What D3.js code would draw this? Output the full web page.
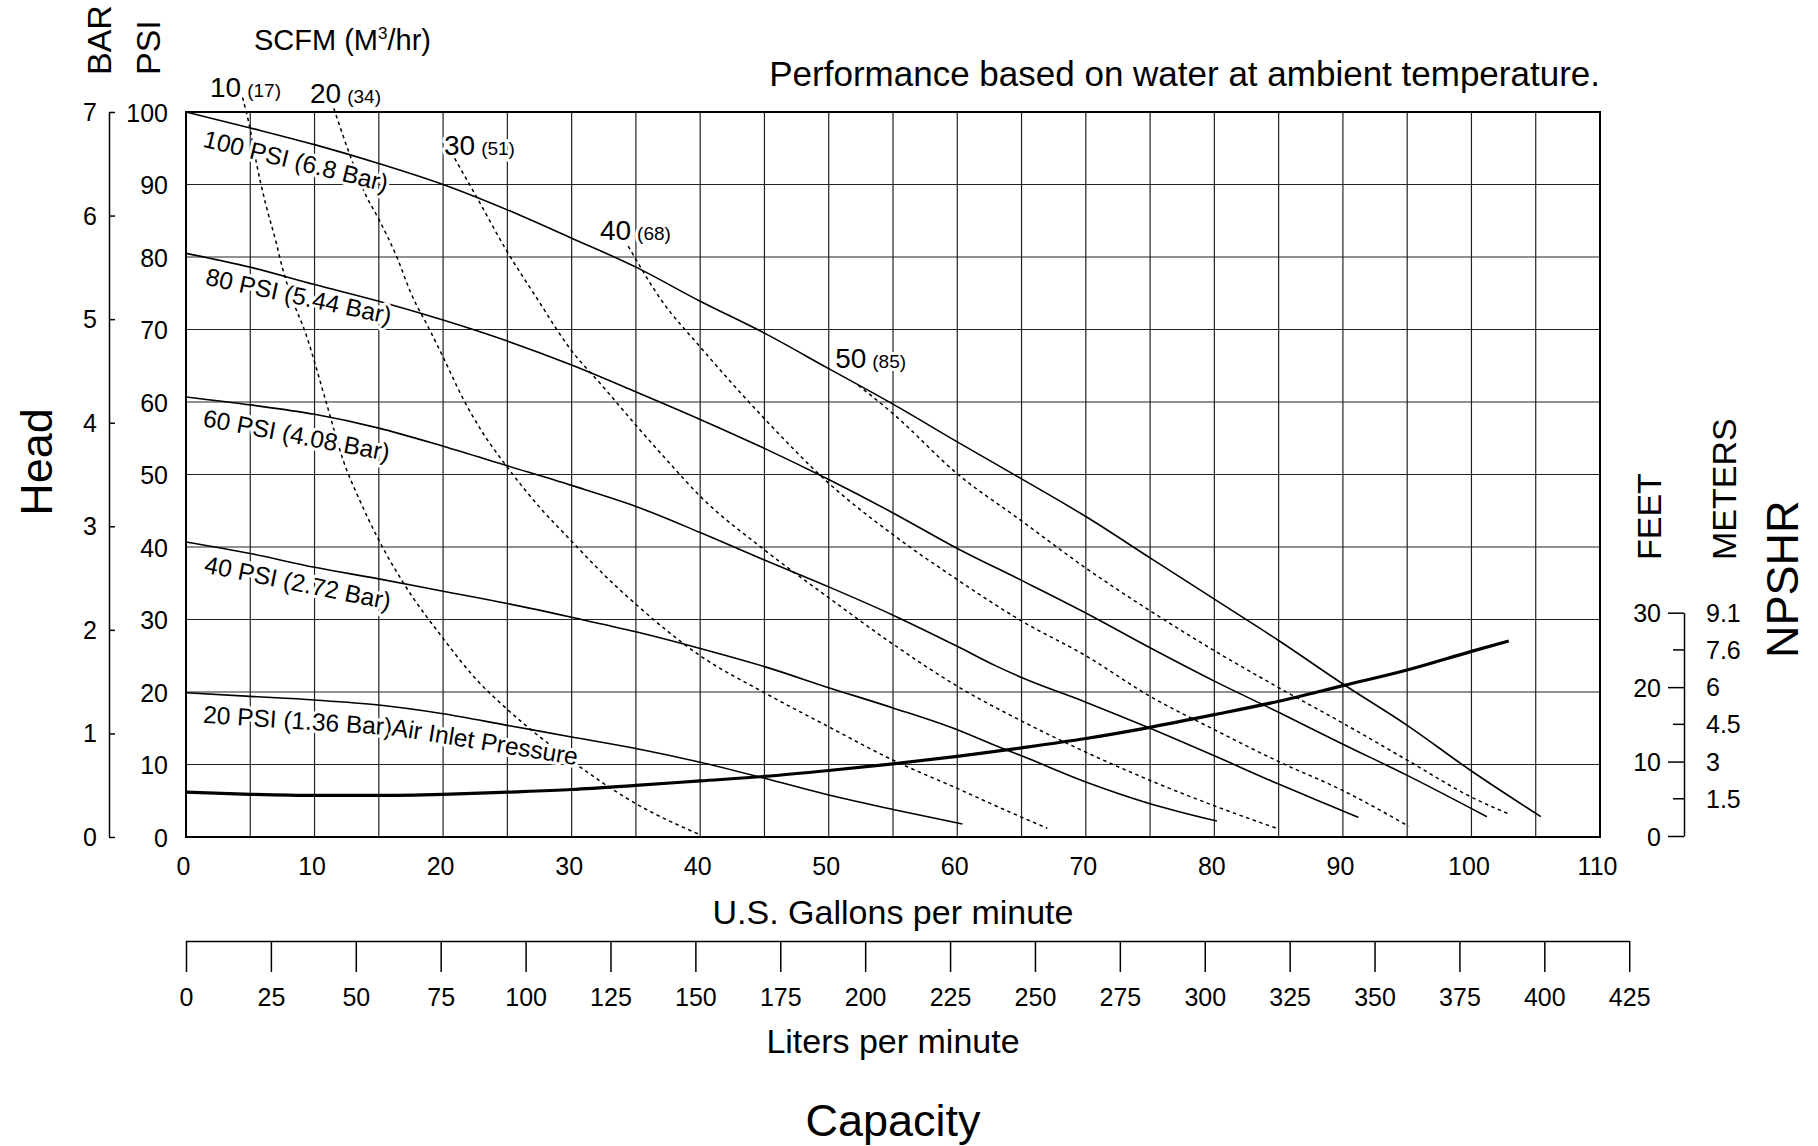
<!DOCTYPE html>
<meta charset="utf-8">
<script src="https://d3js.org/d3.v7.min.js"></script>
<style>
  body { margin: 0; background: #fff; }
  text { font-family: "Liberation Sans", Arial, sans-serif; fill: #000; }
</style>

<div id="my_dataviz"></div>
<script>
  // ---- data ----
  var gpmTicks = [0, 10, 20, 30, 40, 50, 60, 70, 80, 90, 100, 110];
  var gpmGrid = [5, 10, 15, 20, 25, 30, 35, 40, 45, 50, 55, 60, 65, 70, 75, 80, 85, 90, 95, 100, 105];
  var psiTicks = [0, 10, 20, 30, 40, 50, 60, 70, 80, 90, 100];
  var barTicks = [0, 1, 2, 3, 4, 5, 6, 7];
  var literTicks = [0, 25, 50, 75, 100, 125, 150, 175, 200, 225, 250, 275, 300, 325, 350, 375, 400, 425];
  var feetTicks = [0, 10, 20, 30];
  var feetMinor = [5, 15, 25];
  var meterAtFeet = [5, 10, 15, 20, 25, 30];
  var meterLabels = ["1.5", "3", "4.5", "6", "7.6", "9.1"];

  // air inlet pressure curves: [gpm, psi]
  var psi100 = [[0,100],[5,97.8],[10,95.5],[15,92.9],[20,90.0],[25,86.5],[30,82.6],[35,78.6],[40,73.9],[45,69.5],[50,64.6],[55,59.7],[60,54.5],[65,49.4],[70,44.2],[75,38.5],[80,32.8],[85,27.1],[90,21.1],[95,15.4],[100,9.1],[105.4,2.8]];
  var psi80 = [[0,80.5],[5,78.6],[10,76.2],[15,73.9],[20,71.3],[25,68.4],[30,65.1],[35,61.4],[40,57.6],[45,53.6],[50,49.3],[55,44.7],[60,39.8],[65,35.4],[70,30.9],[75,26.1],[80,21.5],[85,17.2],[90,12.8],[95,8.5],[101.2,2.8]];
  var psi60 = [[0,60.7],[5,59.6],[10,58.3],[15,56.4],[20,53.9],[25,51.2],[30,48.5],[35,45.6],[40,42.0],[45,38.2],[50,34.5],[55,30.6],[60,26.3],[63,23.6],[65,22.0],[70,18.6],[75,15.0],[80,11.2],[85,7.3],[90,3.6],[91.2,2.7]];
  var psi40 = [[0,40.7],[5,39.1],[10,37.2],[15,35.6],[20,33.9],[25,32.2],[30,30.3],[35,28.3],[40,26.0],[45,23.5],[50,20.6],[55,17.8],[60,14.8],[63.4,12.3],[65,11.2],[70,7.6],[75,4.6],[80.2,2.2]];
  var psi20 = [[0,19.9],[5,19.4],[10,18.9],[15,18.2],[20,17.0],[25,15.4],[30,13.8],[35,12.2],[40,10.3],[45,8.1],[50,5.8],[55,3.8],[60.4,1.8]];
  var pressureNames = ["100 PSI (6.8 Bar)", "80 PSI (5.44 Bar)", "60 PSI (4.08 Bar)", "40 PSI (2.72 Bar)", "20 PSI (1.36 Bar)"];
  var inletNote = "Air Inlet Pressure";

  // air consumption curves (dashed): [gpm, psi]
  var scfm10 = [[4.4,102],[4.9,98.4],[5.45,93.2],[6.2,87.3],[7.0,82.1],[7.5,78.5],[8.3,74],[9.2,70],[10.9,60],[12.2,52.1],[13.5,46.5],[14.9,41.3],[17.0,34.8],[20,27.4],[22.5,21.9],[25,17.6],[30,10.5],[35,4.6],[40,0.3]];
  var scfm20 = [[11.5,100.5],[12.6,94.8],[14,88.5],[15,85.2],[16.4,80],[17.5,75],[19,69.8],[20,66.2],[21.6,60.3],[23,56],[25,51],[27.5,45.5],[30,40.8],[32.5,36.2],[35,32.1],[40,25.0],[45,19.9],[50,15.2],[55,10.6],[60,6.7],[63.5,3.9],[67,1.2]];
  var scfm30 = [[20.9,93.6],[22.6,88.3],[24.9,81],[27.3,74.3],[29.9,67.3],[32.5,62],[35,56.8],[37.5,51.8],[40,47.0],[45,39.6],[50,33.0],[55,26.6],[60,20.8],[65,16.0],[70,11.7],[75,7.8],[80,4.3],[85,1.1]];
  var scfm40 = [[34.4,81.5],[37,74],[40,67.6],[45,57.7],[50,48.8],[55,41.7],[60,35.5],[65,29.8],[70,25.0],[75,19.4],[80,14.8],[85,10.4],[90,6.4],[95.1,1.5]];
  var scfm50 = [[52.3,62.3],[55,58.4],[60,50.1],[65,43.6],[70,37.1],[75,31.2],[80,25.7],[85,20.6],[90,15.7],[95,10.6],[100,5.5],[103,3.1]];
  var scfmNames = ["10", "20", "30", "40", "50"];
  var scfmM3 = ["(17)", "(34)", "(51)", "(68)", "(85)"];

  // NPSHR curve: [gpm, feet]
  var npshr = [[0,5.9],[5,5.6],[10,5.45],[15,5.45],[20,5.6],[25,5.9],[30,6.25],[35,6.8],[40,7.4],[45,8.0],[50,8.8],[55,9.7],[60,10.7],[65,11.85],[70,13.1],[75,14.6],[80,16.3],[85,18.1],[90,20.2],[95,22.3],[100,24.8],[102.9,26.2]];

  // ---- layout ----
  var margin = {top: 112, right: 218, bottom: 309, left: 186},
      width = 1818 - margin.left - margin.right,
      height = 1146 - margin.top - margin.bottom;

  var svg = d3.select("#my_dataviz")
    .append("svg")
      .attr("width", width + margin.left + margin.right)
      .attr("height", height + margin.top + margin.bottom)
    .append("g")
      .attr("transform", "translate(" + margin.left + "," + margin.top + ")");

  var x = d3.scaleLinear().domain([0, 110]).range([0, width]);
  var y = d3.scaleLinear().domain([0, 100]).range([height, 0]);
  var yBar = d3.scaleLinear().domain([0, 7]).range([height, 0]);
  var xL = d3.scaleLinear().domain([0, 110 * 3.7854]).range([0, width]);
  var yFt = d3.scaleLinear().domain([0, 30]).range([724, 500.7]);

  // grid
  svg.append("g").selectAll("line")
    .data(gpmGrid).enter().append("line")
      .attr("x1", function(d) { return x(d); }).attr("x2", function(d) { return x(d); })
      .attr("y1", 0).attr("y2", height)
      .attr("stroke", "#222").attr("stroke-width", 1.2);
  svg.append("g").selectAll("line")
    .data(psiTicks.slice(1, -1)).enter().append("line")
      .attr("x1", 0).attr("x2", width)
      .attr("y1", function(d) { return y(d); }).attr("y2", function(d) { return y(d); })
      .attr("stroke", "#222").attr("stroke-width", 1.2);
  svg.append("rect")
    .attr("x", 0).attr("y", 0).attr("width", width).attr("height", height)
    .attr("fill", "none").attr("stroke", "#000").attr("stroke-width", 2);

  // GPM axis labels
  var xAxis = svg.append("g")
    .attr("transform", "translate(0," + height + ")")
    .call(d3.axisBottom(x).tickValues(gpmTicks).tickSize(0).tickPadding(0));
  xAxis.select(".domain").remove();
  xAxis.selectAll("text")
    .attr("y", 38).attr("dy", 0).attr("dx", -3)
    .style("font-size", "25px");

  // PSI axis labels
  var yAxis = svg.append("g")
    .call(d3.axisLeft(y).tickValues(psiTicks).tickSize(0).tickPadding(18));
  yAxis.select(".domain").remove();
  yAxis.selectAll("text").style("font-size", "25px").attr("dy", "0.36em");

  // BAR axis
  var barAxis = svg.append("g")
    .attr("transform", "translate(-77,0)")
    .call(d3.axisRight(yBar).tickValues(barTicks).tickSize(6).tickFormat(""));
  barAxis.select(".domain").attr("stroke-width", 1.5).attr("d", "M0.5," + height + "V0");
  barAxis.selectAll("line").attr("stroke-width", 1.5);
  svg.append("g").selectAll("text")
    .data(barTicks).enter().append("text")
      .attr("x", -89).attr("y", function(d) { return yBar(d); })
      .attr("dy", "0.36em").attr("text-anchor", "end")
      .style("font-size", "25px")
      .text(function(d) { return d; });

  // liters axis
  var lAxis = svg.append("g")
    .attr("transform", "translate(0," + (height + 104) + ")")
    .call(d3.axisBottom(xL).tickValues(literTicks).tickSize(31).tickPadding(12).tickSizeOuter(0));
  lAxis.select(".domain").attr("stroke-width", 1.5).attr("d", "M0," + 0.5 + "H" + xL(425));
  lAxis.selectAll("line").attr("stroke-width", 1.5);
  lAxis.selectAll("text").attr("y", 65).attr("dy", 0).style("font-size", "25px");

  // NPSHR axis (feet left, meters right)
  var fAxis = svg.append("g")
    .attr("transform", "translate(1498,0)")
    .call(d3.axisLeft(yFt).tickValues(feetTicks).tickSize(16).tickPadding(7).tickSizeOuter(0));
  fAxis.select(".domain").attr("stroke-width", 1.5);
  fAxis.selectAll("line").attr("stroke-width", 1.5);
  fAxis.selectAll("text").style("font-size", "25px").attr("dy", "0.36em");
  svg.append("g").selectAll("line")
    .data(feetMinor).enter().append("line")
      .attr("x1", 1487).attr("x2", 1498)
      .attr("y1", function(d) { return yFt(d); }).attr("y2", function(d) { return yFt(d); })
      .attr("stroke", "#000").attr("stroke-width", 1.5);
  svg.append("g").selectAll("text")
    .data(meterAtFeet).enter().append("text")
      .attr("x", 1520).attr("y", function(d) { return yFt(d); })
      .attr("dy", "0.36em")
      .style("font-size", "25px")
      .text(function(d, i) { return meterLabels[i]; });

  // curves
  var line = d3.line()
    .x(function(d) { return x(d[0]); })
    .y(function(d) { return y(d[1]); })
    .curve(d3.curveMonotoneX);

  [scfm10, scfm20, scfm30, scfm40, scfm50].forEach(function(c) {
    svg.append("path").datum(c)
      .attr("d", line)
      .attr("fill", "none").attr("stroke", "#000")
      .attr("stroke-width", 1.5).attr("stroke-dasharray", "3.5,3.5");
  });

  [psi100, psi80, psi60, psi40, psi20].forEach(function(c) {
    svg.append("path").datum(c)
      .attr("d", line)
      .attr("fill", "none").attr("stroke", "#000").attr("stroke-width", 1.6);
  });

  svg.append("path").datum(npshr)
    .attr("d", d3.line()
      .x(function(d) { return x(d[0]); })
      .y(function(d) { return yFt(d[1]); })
      .curve(d3.curveMonotoneX))
    .attr("fill", "none").attr("stroke", "#000").attr("stroke-width", 3.2);

  // curve labels with white halo
  function halo(sel) {
    sel.attr("stroke", "#fff").attr("stroke-width", 6)
       .attr("stroke-linejoin", "round").attr("paint-order", "stroke");
  }

  // pressure labels: anchor [gpm, psi], rotation
  var pLabelPos = [[1.24, 95.24, 13.9], [1.43, 76.2, 12.1], [1.24, 56.7, 10.7], [1.35, 36.5, 11.4], [1.3, 15.75, 3.8]];
  pressureNames.forEach(function(t, i) {
    var p = pLabelPos[i];
    svg.append("text")
      .attr("transform", "translate(" + x(p[0]) + "," + y(p[1]) + ") rotate(" + p[2] + ")")
      .style("font-size", "24.5px")
      .call(halo)
      .text(t);
  });
  svg.append("text")
    .attr("transform", "translate(" + x(15.95) + "," + y(14.05) + ") rotate(9.2)")
    .style("font-size", "24.5px")
    .call(halo)
    .text(inletNote);

  // SCFM labels
  var sLabelPos = [[1.87, 102.1], [9.65, 101.2], [20.07, 94.07], [32.2, 82.3], [50.5, 64.7]];
  scfmNames.forEach(function(t, i) {
    var p = sLabelPos[i];
    var tx = svg.append("text")
      .attr("x", x(p[0])).attr("y", y(p[1]))
      .call(halo);
    tx.append("tspan").style("font-size", "28px").text(t);
    tx.append("tspan").attr("dx", 6).style("font-size", "19px").text(scfmM3[i]);
  });

  // titles
  svg.append("text")
    .attr("x", width).attr("y", -26)
    .attr("text-anchor", "end")
    .style("font-size", "35px")
    .text("Performance based on water at ambient temperature.");

  var scfmTitle = svg.append("text")
    .attr("x", 68).attr("y", -62)
    .style("font-size", "29px");
  scfmTitle.append("tspan").text("SCFM (M");
  scfmTitle.append("tspan").attr("dy", -11).style("font-size", "17px").text("3");
  scfmTitle.append("tspan").attr("dy", 11).text("/hr)");

  svg.append("text")
    .attr("transform", "translate(-75,-37) rotate(-90)")
    .style("font-size", "34px")
    .text("BAR");
  svg.append("text")
    .attr("transform", "translate(-26,-37) rotate(-90)")
    .style("font-size", "34px")
    .text("PSI");
  svg.append("text")
    .attr("transform", "translate(-134,350) rotate(-90)")
    .attr("text-anchor", "middle")
    .style("font-size", "45px")
    .text("Head");

  svg.append("text")
    .attr("transform", "translate(1475,448) rotate(-90)")
    .style("font-size", "34px")
    .text("FEET");
  svg.append("text")
    .attr("transform", "translate(1550,448) rotate(-90)")
    .style("font-size", "34px")
    .text("METERS");
  svg.append("text")
    .attr("transform", "translate(1612,546) rotate(-90)")
    .style("font-size", "45px")
    .text("NPSHR");

  svg.append("text")
    .attr("x", width / 2).attr("y", height + 87)
    .attr("text-anchor", "middle")
    .style("font-size", "34px")
    .text("U.S. Gallons per minute");
  svg.append("text")
    .attr("x", width / 2).attr("y", height + 216)
    .attr("text-anchor", "middle")
    .style("font-size", "34px")
    .text("Liters per minute");
  svg.append("text")
    .attr("x", width / 2).attr("y", height + 299)
    .attr("text-anchor", "middle")
    .style("font-size", "45px")
    .text("Capacity");
</script>
